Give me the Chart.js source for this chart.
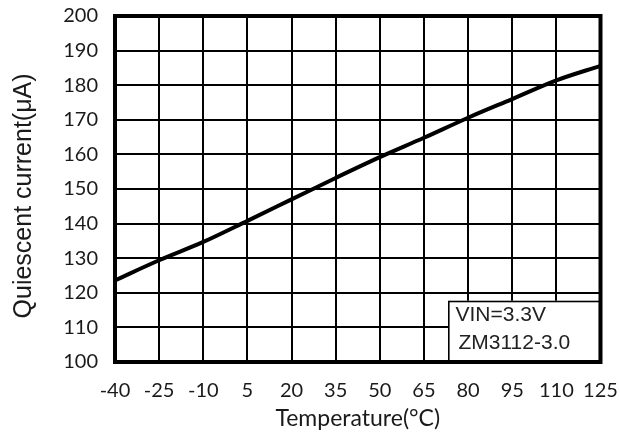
<!DOCTYPE html>
<html>
<head>
<meta charset="utf-8">
<script src="https://cdn.jsdelivr.net/npm/chart.js@4/dist/chart.umd.min.js"></script>
<style>
  html, body { margin: 0; padding: 0; background: #fff; }
  #wrap { width: 620px; height: 434px; }
</style>
</head>
<body>
<div id="wrap"><canvas id="c" width="620" height="434"></canvas></div>
<script>
// Quiescent current versus temperature
const temperatures = [-40, -25, -10, 5, 20, 35, 50, 65, 80, 95, 110, 125];
const quiescentCurrent = [123.6, 129.4, 134.7, 140.8, 147.0, 153.2, 159.2, 164.8, 170.6, 176.0, 181.4, 185.6];
const xTicks = [-40, -25, -10, 5, 20, 35, 50, 65, 80, 95, 110, 125];
const yTicks = [100, 110, 120, 130, 140, 150, 160, 170, 180, 190, 200];
const noteLines = ['VIN=3.3V', 'ZM3112-3.0'];

const points = temperatures.map((t, i) => ({ x: t, y: quiescentCurrent[i] }));

// Condition box in the lower right corner of the plot
const notePlugin = {
  id: 'noteBox',
  afterDatasetsDraw(chart) {
    const { ctx, chartArea } = chart;
    const left = chartArea.right - 152.5;
    const top = chartArea.bottom - 61.3;
    ctx.save();
    ctx.fillStyle = '#fff';
    ctx.fillRect(left, top, chartArea.right - left, chartArea.bottom - top);
    ctx.strokeStyle = '#000';
    ctx.lineWidth = 1.6;
    ctx.strokeRect(left + 0.8, top + 0.8, chartArea.right - left - 1.6, chartArea.bottom - top - 1.6);
    ctx.fillStyle = '#222';
    ctx.font = '21px "Liberation Sans", Arial, sans-serif';
    ctx.textBaseline = 'alphabetic';
    ctx.textAlign = 'left';
    ctx.fillText(noteLines[0], left + 7.5, top + 20);
    ctx.fillText(noteLines[1], left + 10.5, top + 48.3);
    ctx.restore();
  }
};

// Heavy frame around the plotting area
const framePlugin = {
  id: 'frame',
  afterDraw(chart) {
    const { ctx, chartArea } = chart;
    ctx.save();
    ctx.strokeStyle = '#000';
    ctx.lineWidth = 4;
    ctx.strokeRect(chartArea.left, chartArea.top,
      chartArea.right - chartArea.left, chartArea.bottom - chartArea.top);
    ctx.restore();
  }
};

// Let the edge tick labels overhang the margins instead of shrinking the plot
function noEdgePadding(scale) {
  scale.paddingTop = 0;
  scale.paddingBottom = 0;
  scale.paddingLeft = 0;
  scale.paddingRight = 0;
}

new Chart(document.getElementById('c'), {
  type: 'line',
  data: {
    datasets: [{
      data: points,
      borderColor: '#000',
      borderWidth: 4,
      pointRadius: 0,
      fill: false,
      cubicInterpolationMode: 'monotone'
    }]
  },
  options: {
    responsive: false,
    animation: false,
    devicePixelRatio: 1,
    layout: { padding: { top: 16, right: 19.5, left: 0, bottom: 0 } },
    plugins: { legend: { display: false }, tooltip: { enabled: false } },
    scales: {
      x: {
        type: 'linear',
        min: xTicks[0],
        max: xTicks[xTicks.length - 1],
        afterBuildTicks(scale) { scale.ticks = xTicks.map(v => ({ value: v })); },
        afterFit(scale) { scale.height = 72; noEdgePadding(scale); },
        grid: { color: '#000', lineWidth: 2, drawTicks: false },
        border: { display: false },
        ticks: {
          color: '#1a1a1a',
          font: { family: 'Lato', size: 20, lineHeight: 1.2 },
          padding: 17,
          maxRotation: 0,
          autoSkip: false
        },
        title: {
          display: true,
          text: 'Temperature(°C)',
          color: '#1a1a1a',
          font: { family: 'Lato', size: 23, lineHeight: 1.2 },
          padding: { top: 0, bottom: 2 }
        }
      },
      y: {
        type: 'linear',
        min: yTicks[0],
        max: yTicks[yTicks.length - 1],
        afterBuildTicks(scale) { scale.ticks = yTicks.map(v => ({ value: v })); },
        afterFit(scale) { scale.width = 115; noEdgePadding(scale); },
        grid: { color: '#000', lineWidth: 2, drawTicks: false },
        border: { display: false },
        ticks: {
          color: '#1a1a1a',
          font: { family: 'Lato', size: 20, lineHeight: 1.2 },
          padding: 17,
          autoSkip: false
        },
        title: {
          display: true,
          text: 'Quiescent current(μA)  ',
          color: '#1a1a1a',
          font: { family: '"Liberation Sans", Arial, sans-serif', size: 25, lineHeight: 1.2 },
          padding: { top: 9, bottom: 0 }
        }
      }
    }
  },
  plugins: [notePlugin, framePlugin]
});
</script>
</body>
</html>
